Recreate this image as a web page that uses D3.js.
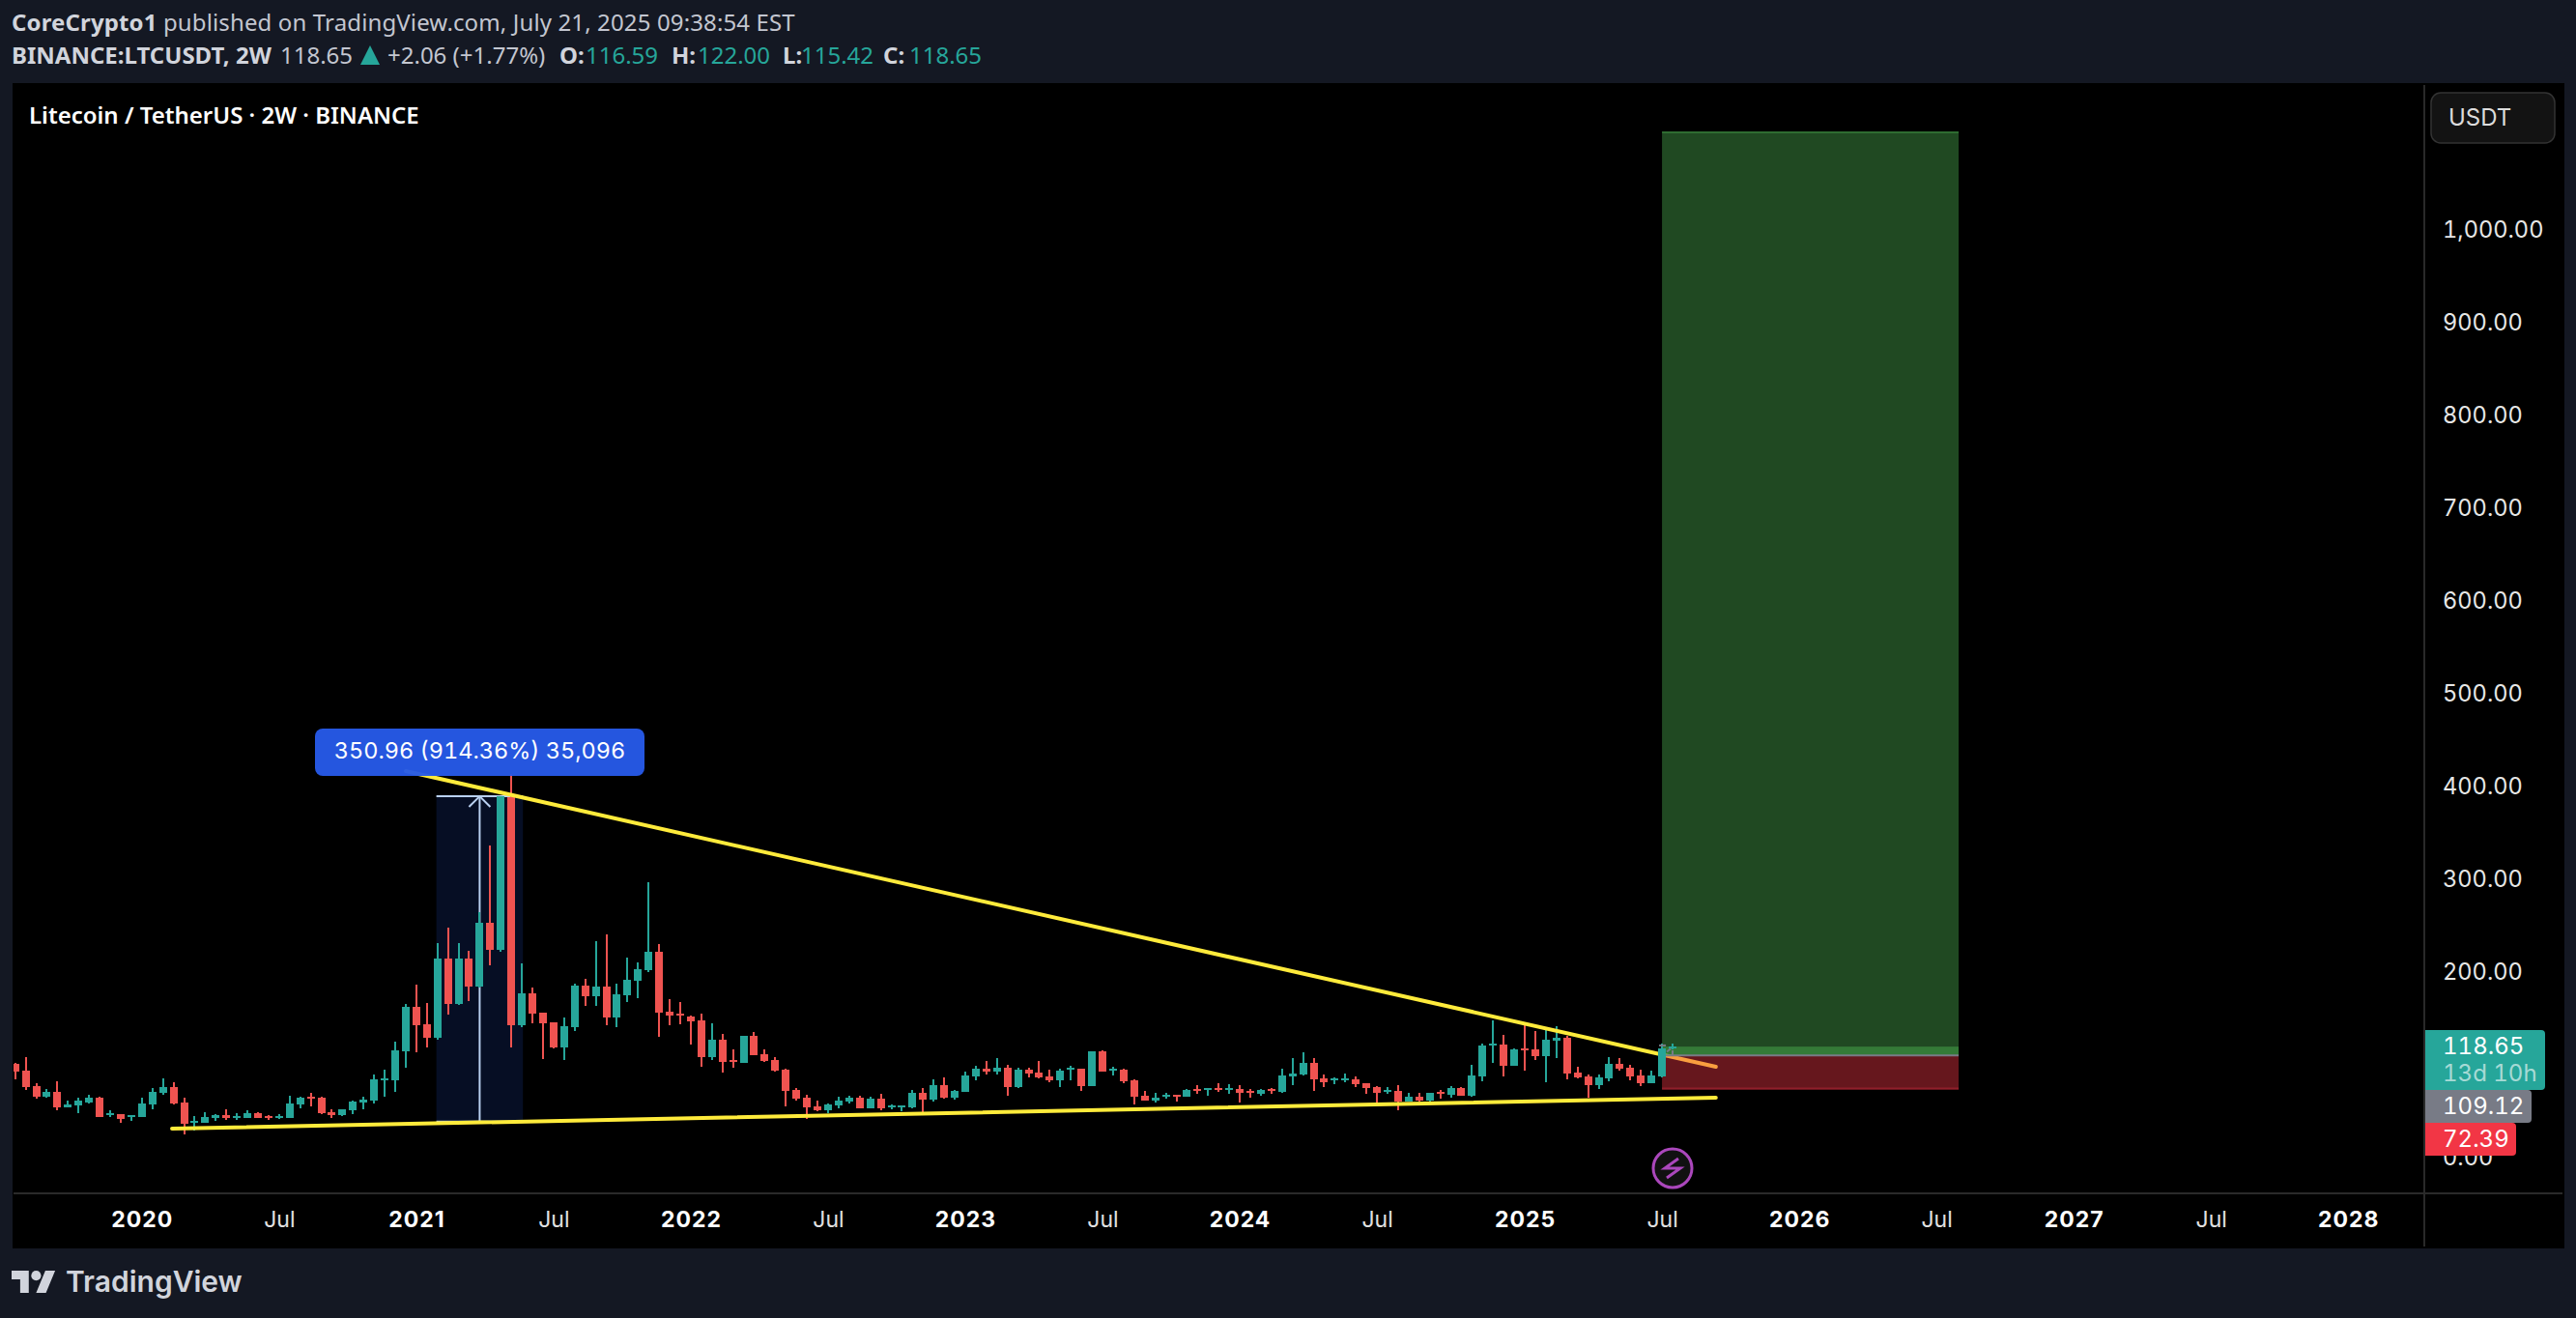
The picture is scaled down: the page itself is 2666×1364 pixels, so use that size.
<!DOCTYPE html>
<html>
<head>
<meta charset="utf-8">
<script src="https://cdn.jsdelivr.net/npm/d3@7"></script>
<style>
html, body { margin: 0; padding: 0; background: #141823; overflow: hidden; }
svg { display: block; }
text { font-family: Inter, sans-serif; }
.head text, .head { font-family: "Noto Sans", sans-serif; }
.num { font-variant-numeric: tabular-nums; }
</style>
</head>
<body>
<svg id="chart" width="2666" height="1364"></svg>
<script>
// two week LTCUSDT candles
var opens = [100.1,92.8,76.1,64.6,69.8,53.2,55.2,58.4,63.6,44.8,
45.9,42.7,42.7,56.3,68.8,75.0,58.4,36.5,36.5,41.7,
44.8,41.7,41.7,46.9,43.8,41.7,41.7,56.3,64.6,63.6,
47.9,44.8,50.0,58.4,60.4,82.3,82.3,113.6,161.5,142.8,
128.2,213.7,164.7,213.7,183.4,252.2,223.0,387.7,141.7,176.1,
155.3,144.9,117.8,139.7,184.5,173.0,183.4,150.1,174.0,189.7,
201.1,220.9,156.3,154.2,151.1,146.9,107.3,126.1,104.2,101.1,
130.3,110.5,104.2,93.8,71.9,63.6,54.2,50.0,55.2,59.4,
63.6,52.1,62.5,53.2,53.2,53.2,68.8,61.5,77.1,63.6,
69.8,86.5,94.8,91.7,95.9,75.0,93.8,90.7,86.5,82.3,
93.8,94.8,76.1,113.6,92.8,93.8,82.3,65.7,60.4,64.6,
66.7,64.6,73.0,71.9,74.0,71.9,73.0,70.9,67.7,73.0,
69.8,86.5,88.6,101.1,84.4,82.3,82.3,83.4,79.2,75.0,
69.8,70.9,59.4,64.6,60.4,69.8,66.7,74.0,65.7,86.5,
119.9,120.9,98.0,116.7,115.7,108.4,125.1,128.2,90.7,86.5,
77.1,84.4,100.1,95.9,87.5,79.2,86.5,116.59];
var highs = [101.1,107.3,79.2,73.0,81.3,60.4,63.6,66.7,64.6,50.0,
45.9,44.8,63.6,74.0,84.4,80.2,63.6,43.8,47.9,45.9,
51.1,46.9,50.0,47.9,44.8,45.9,65.7,64.6,68.8,64.6,
51.1,51.1,60.4,64.6,88.6,93.8,123.7,164.7,185.5,165.7,
230.3,247.0,230.3,222.0,263.7,335.6,388.7,412.7,208.4,182.4,
155.3,144.9,150.1,186.6,191.8,232.4,239.7,186.6,214.7,209.5,
296.0,229.3,169.9,166.8,152.2,154.2,143.8,132.4,115.7,130.3,
134.4,115.7,107.3,94.8,74.0,66.7,60.4,57.3,64.6,65.7,
65.7,64.6,67.7,56.3,55.2,71.9,74.0,83.4,85.5,71.9,
91.7,98.0,103.2,106.3,99.0,95.9,95.9,103.2,93.8,94.8,
98.0,94.8,113.6,114.6,96.9,94.8,83.4,70.9,68.8,68.8,
66.7,73.0,77.1,74.0,79.2,78.2,77.1,73.0,73.0,74.0,
94.8,106.3,112.6,106.3,88.6,85.5,89.6,86.5,79.2,76.1,
75.0,77.1,68.8,68.8,68.8,71.9,76.1,75.0,99.0,121.9,
147.0,131.3,116.7,141.7,135.5,137.6,140.7,130.3,96.9,88.6,
88.6,107.3,106.3,99.0,93.8,92.8,121.9,122.00];
var lows = [83.4,71.9,62.5,63.6,50.0,53.2,46.9,57.3,42.7,42.7,
36.5,38.6,42.7,51.1,66.7,56.3,24.0,28.1,36.5,38.6,
39.6,39.6,41.7,41.7,39.6,40.6,41.7,52.1,54.2,45.9,
41.7,43.8,45.9,51.1,57.3,64.6,69.8,95.9,112.6,117.8,
126.1,153.2,163.6,167.8,182.4,206.4,220.9,117.8,139.7,143.8,
105.3,116.7,104.2,135.5,162.6,162.6,141.7,139.7,166.8,170.9,
199.1,129.2,141.7,142.8,120.9,96.9,104.2,90.7,95.9,101.1,
109.4,102.1,91.7,54.2,60.4,40.6,49.0,46.9,52.1,57.3,
52.1,52.1,50.0,51.1,49.0,52.1,47.9,59.4,62.5,61.5,
69.8,82.3,88.6,88.6,65.7,74.0,85.5,84.4,80.2,75.0,
82.3,70.9,76.1,91.7,87.5,79.2,56.3,60.4,58.4,62.5,
59.4,64.6,67.7,65.7,69.8,67.7,58.4,63.6,65.7,67.7,
68.8,77.1,87.5,70.9,75.0,78.2,80.2,75.0,67.7,57.3,
67.7,50.0,59.4,59.4,59.4,62.5,63.6,65.7,64.6,81.3,
101.1,86.5,98.0,92.8,104.2,80.2,106.3,83.4,84.4,63.6,
73.0,81.3,92.8,82.3,76.1,79.2,85.5,115.42];
var closes = [91.7,75.0,64.6,69.8,53.2,56.3,60.4,63.6,42.7,46.9,
40.6,44.8,57.3,69.8,75.0,57.3,35.4,38.6,42.7,44.8,
41.7,43.8,46.9,41.7,41.7,43.8,57.3,63.6,62.5,46.9,
44.8,51.1,59.4,61.5,83.4,84.4,114.6,161.5,141.7,128.2,
213.7,164.7,213.7,183.4,252.2,223.0,388.7,141.7,176.1,154.2,
143.8,117.8,140.7,184.5,173.0,183.4,150.1,175.1,190.7,202.2,
220.9,155.3,152.2,152.2,145.9,107.3,126.1,102.1,102.1,130.3,
109.4,103.2,92.8,70.9,62.5,53.2,50.0,56.3,60.4,63.6,
52.1,62.5,52.1,55.2,55.2,68.8,61.5,77.1,63.6,70.9,
87.5,94.8,91.7,95.9,75.0,93.8,89.6,85.5,82.3,92.8,
95.9,76.1,113.6,91.7,94.8,81.3,64.6,60.4,63.6,66.7,
64.6,71.9,70.9,74.0,71.9,74.0,68.8,68.8,71.9,70.9,
87.5,89.6,101.1,83.4,80.2,84.4,84.4,78.2,74.0,68.8,
71.9,59.4,64.6,60.4,68.8,67.7,74.0,65.7,87.5,119.9,
121.9,98.0,115.7,114.6,108.4,126.1,128.2,89.6,85.5,77.1,
85.5,100.1,94.8,86.5,79.2,87.5,116.7,118.65];

// 100.00 is not listed: the price labels sit on it in the reference
var priceTicks = [0,200,300,400,500,600,700,800,900,1000];
var timeTicks = [12,25,38,51,64,77,90,103,116,129,143,156,169,182,195,208,221];
var timeLabels = ["2020","Jul","2021","Jul","2022","Jul","2023","Jul","2024","Jul","2025","Jul","2026","Jul","2027","Jul","2028"];

// drawings, in bar index and price
var upperLine = [[37,415.8],[161.1,96.9]];
var lowerLine = [[14.86,30.2],[161.1,63.6]];
var rangeBars = [39.9,48.1];
var rangePrices = [37.74,388.7];
var toolBars = [156,184.1];
var toolTarget = 1105.8;
var toolEntry = 109.12;
var toolStop = 72.39;
var lastClose = 118.65;

var green = "#26a69a", red = "#ef5350", yellow = "#ffeb3b";

var svg = d3.select("#chart");

var x = d3.scaleLinear().domain([0,157]).range([15.7,1731]);
var y = d3.scaleLinear().domain([0,1000]).range([1197,237.5]);

// panels
svg.append("rect").attr("x",13).attr("y",86).attr("width",2641).attr("height",1206).attr("fill","#000");
svg.append("defs").append("clipPath").attr("id","plot").append("rect")
    .attr("x",14).attr("y",86).attr("width",2495).attr("height",1149);
svg.append("rect").attr("x",14).attr("y",1234).attr("width",2638).attr("height",2).attr("fill","#2a2a2a");
svg.append("rect").attr("x",2508).attr("y",88).attr("width",2).attr("height",1202).attr("fill","#2a2a2a");

var plot = svg.append("g").attr("clip-path","url(#plot)");

// price range box behind the candles
plot.append("rect")
    .attr("x",x(rangeBars[0])).attr("width",x(rangeBars[1])-x(rangeBars[0]))
    .attr("y",y(rangePrices[1])).attr("height",y(rangePrices[0])-y(rangePrices[1]))
    .attr("fill","#060e24");
rangePrices.forEach(function(p)
{
    plot.append("line")
        .attr("x1",x(rangeBars[0])).attr("x2",x(rangeBars[1]))
        .attr("y1",y(p)).attr("y2",y(p))
        .attr("stroke","#b9d0f0").attr("stroke-width",2);
});
var midBar = (rangeBars[0]+rangeBars[1])/2;
plot.append("line")
    .attr("x1",x(midBar)).attr("x2",x(midBar))
    .attr("y1",y(rangePrices[0])).attr("y2",y(rangePrices[1]))
    .attr("stroke","#b9d0f0").attr("stroke-width",2);
plot.append("path")
    .attr("d","M"+(x(midBar)-11)+","+(y(rangePrices[1])+11)+"L"+x(midBar)+","+y(rangePrices[1])+"L"+(x(midBar)+11)+","+(y(rangePrices[1])+11))
    .attr("fill","none").attr("stroke","#b9d0f0").attr("stroke-width",2);

function drawCandles(g, idx)
{
    var c = g.selectAll("g.c"+idx[0]).data(idx).enter().append("g").attr("class","c"+idx[0])
        .attr("fill",function(i){ return closes[i]>=opens[i] ? green : red; });
    c.append("rect")
        .attr("x",function(i){ return Math.round(x(i))-1; })
        .attr("width",2)
        .attr("y",function(i){ return y(highs[i]); })
        .attr("height",function(i){ return y(lows[i])-y(highs[i]); })
        .attr("shape-rendering","crispEdges");
    c.append("rect")
        .attr("x",function(i){ return Math.round(x(i))-4; })
        .attr("width",8)
        .attr("y",function(i){ return y(Math.max(opens[i],closes[i])); })
        .attr("height",function(i){ return Math.max(2,Math.abs(y(opens[i])-y(closes[i]))); })
        .attr("shape-rendering","crispEdges");
}
drawCandles(plot, d3.range(0,156));

// trend lines
[upperLine,lowerLine].forEach(function(l)
{
    plot.append("line")
        .attr("x1",x(l[0][0])).attr("y1",y(l[0][1]))
        .attr("x2",x(l[1][0])).attr("y2",y(l[1][1]))
        .attr("stroke",yellow).attr("stroke-width",4).attr("stroke-linecap","round");
});

// long position tool, sits over the trend line
var tx = x(toolBars[0]), tw = x(toolBars[1])-x(toolBars[0]);
plot.append("rect").attr("x",tx).attr("width",tw)
    .attr("y",y(toolTarget)).attr("height",y(toolEntry)-y(toolTarget))
    .attr("fill","#4caf50").attr("fill-opacity",0.42);
plot.append("rect").attr("x",tx).attr("width",tw)
    .attr("y",y(toolTarget)).attr("height",2)
    .attr("fill","#4caf50").attr("fill-opacity",0.35);
plot.append("rect").attr("x",tx).attr("width",tw)
    .attr("y",y(lastClose)).attr("height",y(toolEntry)-y(lastClose))
    .attr("fill","#4caf50").attr("fill-opacity",0.48);
plot.append("rect").attr("x",tx).attr("width",tw)
    .attr("y",y(toolEntry)).attr("height",y(toolStop)-y(toolEntry))
    .attr("fill","#f23645").attr("fill-opacity",0.42);
plot.append("line").attr("x1",tx).attr("x2",tx+tw)
    .attr("y1",y(toolEntry)).attr("y2",y(toolEntry))
    .attr("stroke","#787b86").attr("stroke-width",2);
plot.append("line").attr("x1",tx).attr("x2",tx+tw)
    .attr("y1",y(toolStop)-1).attr("y2",y(toolStop)-1)
    .attr("stroke","#8f1f2a").attr("stroke-width",2);

drawCandles(plot, [156,157]);

// the tool's small grey marks by the last bars
plot.append("rect").attr("x",x(156)-3).attr("y",y(121)).attr("width",7).attr("height",2).attr("fill","#787b86");
plot.append("rect").attr("x",x(157)-1).attr("y",y(lastClose-4)).attr("width",2).attr("height",y(toolEntry)-y(lastClose-4)).attr("fill","#787b86");
plot.append("line").attr("x1",x(156)+5).attr("y1",y(113)).attr("x2",x(156)+9).attr("y2",y(116.5))
    .attr("stroke","#787b86").attr("stroke-width",2);

// range tag
svg.append("rect").attr("x",326).attr("y",754).attr("width",341).attr("height",49).attr("rx",8)
    .attr("fill","#2759e8").attr("fill-opacity",0.96);
svg.append("text").attr("x",496.5).attr("y",779).attr("text-anchor","middle").attr("dominant-baseline","middle")
    .attr("class","num").attr("fill","#fff").attr("font-size",23.5).text("350.96 (914.36%) 35,096");

// axes
var yAxis = d3.axisRight(y).tickValues(priceTicks).tickFormat(d3.format(",.2f")).tickSize(0).tickPadding(19);
var yg = svg.append("g").attr("transform","translate(2509,0.5)").call(yAxis);
yg.select(".domain").remove();
yg.selectAll("text").attr("class","num").attr("fill","#e6e6e6").attr("font-size",23.6).attr("font-family","Inter, sans-serif");

var xAxis = d3.axisBottom(x).tickValues(timeTicks)
    .tickFormat(function(d,i){ return timeLabels[i]; }).tickSize(0).tickPadding(0);
var xg = svg.append("g").attr("transform","translate(0,1254)").call(xAxis);
xg.select(".domain").remove();
xg.selectAll("text")
    .attr("dy","0.71em")
    .attr("fill",function(d,i){ return timeLabels[i]=="Jul" ? "#e0e0e0" : "#fff"; })
    .attr("font-weight",function(d,i){ return timeLabels[i]=="Jul" ? 400 : 700; })
    .attr("letter-spacing",function(d,i){ return timeLabels[i]=="Jul" ? 0 : 1; })
    .attr("font-size",23).attr("font-family","Inter, sans-serif");

// last price labels
function priceLabel(x2, y0, y1, color, rows)
{
    svg.append("path")
        .attr("d","M2510,"+y0+"H"+(x2-4)+"q4,0 4,4V"+(y1-4)+"q0,4 -4,4H2510Z")
        .attr("fill",color);
    rows.forEach(function(r)
    {
        svg.append("text").attr("x",2528).attr("y",r[1]).attr("dominant-baseline","middle")
            .attr("class","num").attr("fill",r[2]).attr("font-size",24).text(r[0]);
    });
}
priceLabel(2634,1066,1128,"#26a69a",[["118.65",1084,"#fff"],["13d 10h",1112,"rgba(255,255,255,0.6)"]]);
priceLabel(2620,1128,1162,"#787b86",[["109.12",1146,"#fff"]]);
priceLabel(2604,1162,1196,"#f23645",[["72.39",1180,"#fff"]]);

// currency button
svg.append("rect").attr("x",2516).attr("y",96).attr("width",128).attr("height",52).attr("rx",10)
    .attr("fill","#131313").attr("stroke","#333").attr("stroke-width",1.5);
svg.append("text").attr("x",2534).attr("y",123).attr("dominant-baseline","middle")
    .attr("fill","#dcdcdc").attr("font-size",24).text("USDT");

// lightning icon
svg.append("circle").attr("cx",1731).attr("cy",1209).attr("r",20)
    .attr("fill","#111").attr("stroke","#ab47bc").attr("stroke-width",3);
svg.append("path").attr("d","M1737,1199L1723,1209H1739L1725,1219")
    .attr("fill","none").attr("stroke","#ab47bc").attr("stroke-width",3);

// header text
var head = svg.append("g").attr("class","head");
var l1 = head.append("text").attr("x",12).attr("y",32).attr("font-size",24).attr("letter-spacing",0.13).attr("fill","#c3c6d0");
l1.append("tspan").attr("font-weight",700).attr("fill","#d1d4dc").text("CoreCrypto1");
l1.append("tspan").text(" published on TradingView.com, July 21, 2025 09:38:54 EST");

var l2 = head.append("text").attr("y",66).attr("font-size",24).attr("fill","#c3c6d0");
l2.append("tspan").attr("x",12).attr("font-weight",700).attr("fill","#d1d4dc").text("BINANCE:LTCUSDT, 2W");
l2.append("tspan").attr("x",290).text("118.65");
l2.append("tspan").attr("x",401).text("+2.06 (+1.77%)");
var ohlc = [["O:","116.59",579,606],["H:","122.00",695,722],["L:","115.42",810,829],["C:","118.65",914,941]];
ohlc.forEach(function(p)
{
    l2.append("tspan").attr("x",p[2]).attr("font-weight",700).attr("fill","#d1d4dc").text(p[0]);
    l2.append("tspan").attr("x",p[3]).attr("fill",green).text(p[1]);
});
head.append("path").attr("d","M383,47L393,67H373Z").attr("fill",green);

head.append("text").attr("x",30).attr("y",128).attr("font-size",24).attr("font-weight",600)
    .attr("fill","#fff").text("Litecoin / TetherUS · 2W · BINANCE");

// logo
var logo = svg.append("g").attr("transform","translate(12,1310) scale(1.27)").attr("fill","#d1d4dc");
logo.append("path").attr("d","M14 22H7V11H0V4h14v18zM28 22h-8l7.5-18h8L28 22z");
logo.append("circle").attr("cx",20).attr("cy",8).attr("r",4);
svg.append("text").attr("x",68).attr("y",1337).attr("font-size",30).attr("font-weight",600)
    .attr("fill","#d1d4dc").text("TradingView");
</script>
</body>
</html>
